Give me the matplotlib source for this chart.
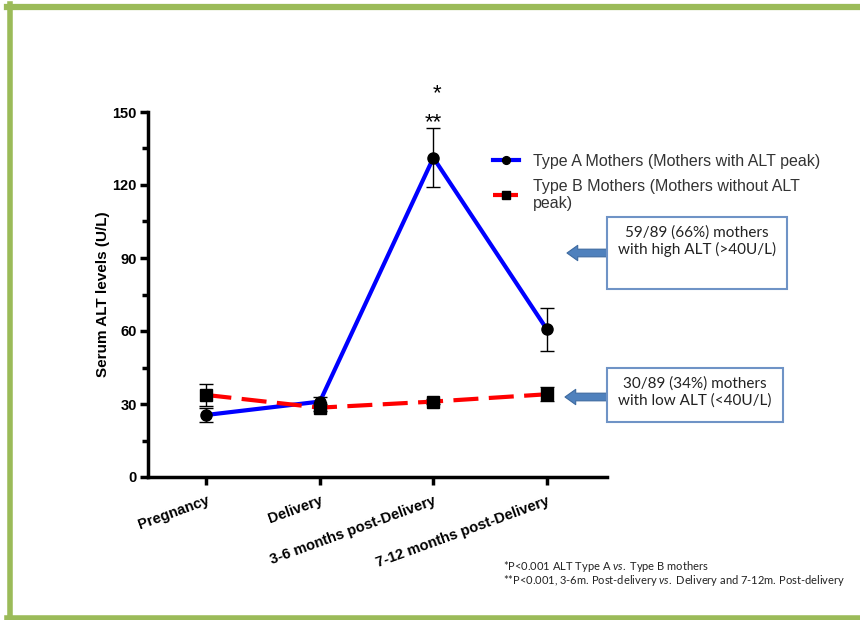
import matplotlib
matplotlib.use("Agg")
import matplotlib.pyplot as plt
from matplotlib.lines import Line2D
from matplotlib.patches import Rectangle
from matplotlib.ticker import MultipleLocator

plt.rcParams['font.family'] = ['Liberation Sans', 'DejaVu Sans']
plt.rcParams['mathtext.fontset'] = 'custom'
plt.rcParams['mathtext.rm'] = 'Lato'
plt.rcParams['mathtext.it'] = 'Lato:italic'

# time points
periods = ['Pregnancy', 'Delivery', '3-6 months post-Delivery', '7-12 months post-Delivery']

# Type A mothers (with ALT peak): mean and SEM
type_a = [25.5, 31.0, 131.2, 60.7]
type_a_err = [2.8, 2.0, 12.2, 8.8]

# Type B mothers (without ALT peak)
type_b = [33.7, 28.5, 31.0, 34.0]
type_b_err = [4.6, 1.5, 1.2, 2.8]

label_a = 'Type A Mothers (Mothers with ALT peak)'
label_b = 'Type B Mothers (Mothers without ALT\npeak)'

box_high = '59/89 (66%) mothers\nwith high ALT (>40U/L)'
box_low = '30/89 (34%) mothers\nwith low ALT (<40U/L)'

note1 = r'*P<0.001 ALT Type A $\it{vs.}$ Type B mothers'
note2 = r'**P<0.001, 3-6m. Post-delivery $\it{vs.}$ Delivery and 7-12m. Post-delivery'

W, H = 860, 620
fig = plt.figure(figsize=(8.6, 6.2), dpi=100)
ax = fig.add_axes([148 / W, 1 - 477 / H, (607 - 148) / W, (477 - 112) / H])

x = list(range(len(periods)))
eb_a = ax.errorbar(x, type_a, yerr=type_a_err, color='#0000ff', lw=3,
                   marker='o', ms=8, mfc='black', mec='black',
                   ecolor='black', elinewidth=1, capsize=5, capthick=1, zorder=3)
eb_b = ax.errorbar(x, type_b, yerr=type_b_err, color='#ff0000', lw=3,
                   ls=(0, (6, 2.5)), marker='s', ms=8, mfc='black', mec='black',
                   ecolor='black', elinewidth=1, capsize=5, capthick=1, zorder=4)

ax.set_xlim(-0.515, 3.53)
ax.set_ylim(0, 150)
ax.yaxis.set_major_locator(MultipleLocator(30))
ax.yaxis.set_minor_locator(MultipleLocator(15))
ax.set_xticks(x)
ax.set_xticklabels(periods, rotation=20, ha='right', rotation_mode='anchor',
                   fontsize=10.5, fontweight='bold')
for lab in ax.get_yticklabels():
    lab.set_fontweight('bold')
    lab.set_fontsize(10.5)
ax.tick_params(axis='both', which='major', length=6, width=2.5, direction='out')
ax.tick_params(axis='y', which='minor', length=4, width=2.5, direction='out')
ax.tick_params(axis='x', pad=6)
ax.tick_params(axis='y', pad=2)

for s in ['top', 'right']:
    ax.spines[s].set_visible(False)
for s in ['left', 'bottom']:
    ax.spines[s].set_linewidth(2.5)

ax.set_ylabel('Serum ALT levels (U/L)', fontsize=11, fontweight='bold', labelpad=2)

# significance marks above the 3-6 month peak
ax.text(2.03, 157.5, '*', ha='center', va='center', fontsize=16, clip_on=False)
ax.text(2.0, 145.5, '**', ha='center', va='center', fontsize=16, clip_on=False)

fig.legend([eb_a.lines[0], eb_b.lines[0]], [label_a, label_b],
           loc='upper left', bbox_to_anchor=(493 / W, 1 - 154 / H),
           frameon=False, fontsize=11.5, handlelength=1.6, handletextpad=0.9,
           labelspacing=0.6, borderpad=0, borderaxespad=0, labelcolor='#333333',
           markerscale=0.7)

# callout boxes with arrows
box_ec = '#6f93c6'
arrow_fc = '#4f81bd'
for (x0, y0, x1, y1), txt, tip, ty in [
        ((607, 217, 787, 289), box_high, 567, 253),
        ((607, 368, 783, 422), box_low, 565, 397)]:
    fig.patches.append(Rectangle((x0 / W, 1 - y1 / H), (x1 - x0) / W, (y1 - y0) / H,
                                 transform=fig.transFigure, fc='white', ec=box_ec, lw=1.5))
    fig.text((x0 + x1) / 2 / W, 1 - (y0 + 8) / H, txt, ha='center', va='top',
             fontsize=11, family='Lato', color='#222222', linespacing=1.25)
    ax.annotate('', xy=(tip / W, 1 - ty / H), xycoords='figure fraction',
                xytext=(x0 / W, 1 - ty / H), textcoords='figure fraction',
                arrowprops=dict(arrowstyle='simple,head_length=0.7,head_width=1.0,tail_width=0.5',
                                fc=arrow_fc, ec='#3d6aa0', lw=0.8, mutation_scale=11,
                                shrinkA=0, shrinkB=0))

fig.text(503 / W, 1 - 566 / H, note1, fontsize=8, family='Lato', va='center', color='#222222')
fig.text(503 / W, 1 - 581 / H, note2, fontsize=8, family='Lato', va='center', color='#222222')

# green frame
green = '#9bbb59'
fig.add_artist(Line2D([9.5 / W, 9.5 / W], [0, 1 - 4 / H], color=green, lw=4, transform=fig.transFigure))
fig.add_artist(Line2D([7 / W, 1], [1 - 6.5 / H, 1 - 6.5 / H], color=green, lw=4.5, transform=fig.transFigure))
fig.add_artist(Line2D([7 / W, 1], [1 - 617.5 / H, 1 - 617.5 / H], color=green, lw=4, transform=fig.transFigure))

fig.savefig('out.png', dpi=100)
